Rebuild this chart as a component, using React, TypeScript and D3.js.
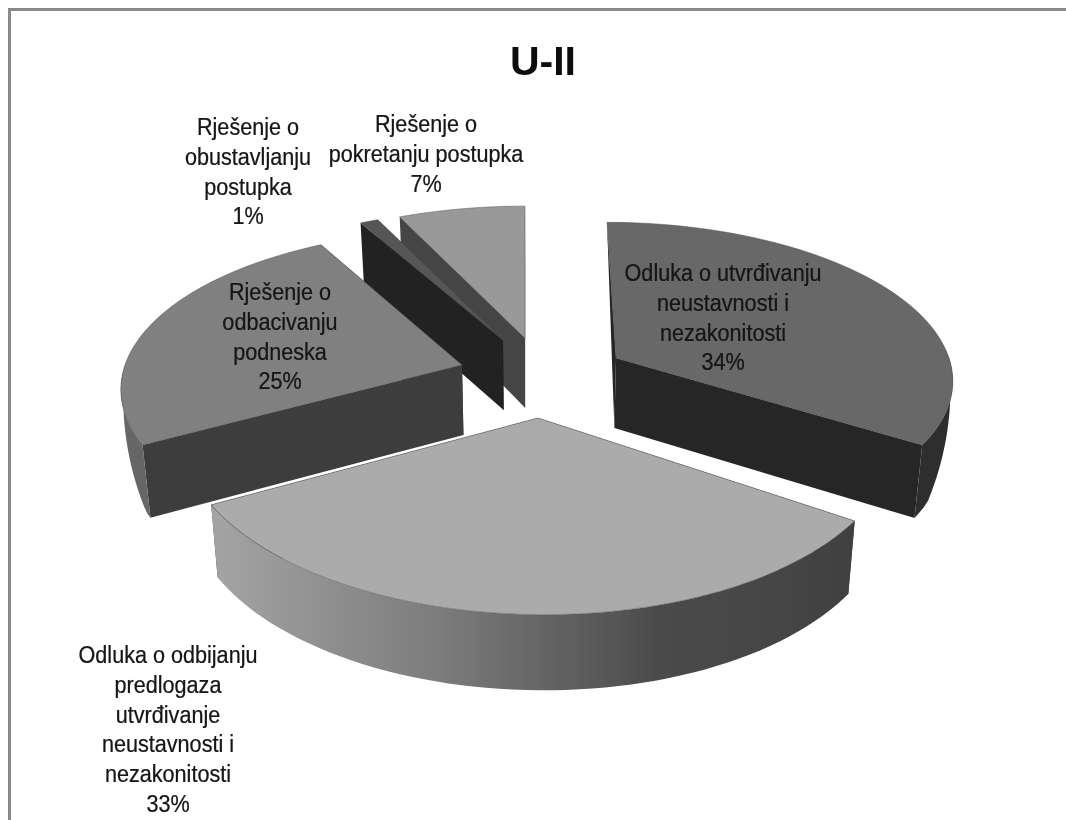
import React from "react";
import * as d3 from "d3";

const title = "U-II";
const categories = [
  ["Odluka o utvrđivanju", "neustavnosti i", "nezakonitosti"],
  ["Odluka o odbijanju", "predlogaza", "utvrđivanje", "neustavnosti i", "nezakonitosti"],
  ["Rješenje o", "odbacivanju", "podneska"],
  ["Rješenje o", "obustavljanju", "postupka"],
  ["Rješenje o", "pokretanju postupka"],
];
const values = [34, 33, 25, 1, 7];
const topColours = ["#676767", "#ababab", "#808080", "#565656", "#999999"];
const cutColours = ["#272727", "#3a3a3a", "#3d3d3d", "#222222", "#454545"];
const rimColours = ["#2e2e2e", "url(#rimFront)", "#666666", "#222222", "#454545"];

// one placement per slice: where its apex lands and how the perspective scales it
const apexX = [616, 538, 462, 503, 525];
const apexY = [358, 418, 365, 340, 338];
const radiusX = [333, 355, 337, 343, 343];
const radiusY = [152, 177, 154.5, 155, 156];
const perspective = [0.12, 0.1, 0.144, 0.183, 0.183];
const shear = [84, 0, -28, 0, 0];
const tilt = [0, 3, 0, 0, 0];
const wedgeStart = [true, false, false, false, false];
const labelX = [723, 168, 280, 248, 426];
const labelY = [281, 663, 300, 135, 132];
const paintOrder = [4, 3, 2, 0, 1];

const depth = 70;
const vanishX = 535;
const lineStep = 29.8;

const arcs = d3.pie<number>().sort(null).value((d) => d).startAngle(0).endAngle(2 * Math.PI)(values);

function project(i: number, angle: number, r: number, drop: number): [number, number] {
  const u = Math.sin(angle) * r;
  const v = -Math.cos(angle) * r;
  const w = 1 / (1 - perspective[i] * v);
  const x = apexX[i] + radiusX[i] * u * w + shear[i] * (w - 1);
  const y = apexY[i] + radiusY[i] * v * w + tilt[i] * u * w;
  if (drop === 0) return [x, y];
  return [vanishX + (x - vanishX) * (1 - 0.02 * drop), y + drop * depth * (1 + 0.08 * v)];
}

const line = d3.line();
const closed = (pts: [number, number][]) => line(pts) + "Z";

// the lower edge of the outer wall closes up towards the back of the pie
const rimDrop = (angle: number) => Math.min(1, Math.max(0, -Math.cos(angle) / 0.45));

function rimPoints(i: number, low: boolean): [number, number][] {
  const a = arcs[i];
  const n = 60;
  return d3.range(n + 1).map((k) => {
    const angle = a.startAngle + ((a.endAngle - a.startAngle) * k) / n;
    return project(i, angle, 1, low ? rimDrop(angle) : 0);
  });
}

function Slice({ i }: { i: number }) {
  const a = arcs[i];
  const topRim = rimPoints(i, false);
  const lowRim = rimPoints(i, true);
  const face = (angle: number) =>
    closed([project(i, 0, 0, 0), project(i, angle, 1, 0), project(i, angle, 1, 1), project(i, 0, 0, 1)]);
  const wedge = closed([project(i, a.startAngle, 1, 0), project(i, 0, 0, 1), project(i, 0, 0, 0)]);
  return (
    <g>
      <path d={wedgeStart[i] ? wedge : face(a.startAngle)} fill={cutColours[i]} />
      <path d={face(a.endAngle)} fill={cutColours[i]} />
      <path d={closed([...topRim, ...[...lowRim].reverse()])} fill={rimColours[i]} />
      <path d={closed([project(i, 0, 0, 0), ...topRim])} fill={topColours[i]} stroke="#555" strokeWidth={0.5} />
    </g>
  );
}

function Label({ i }: { i: number }) {
  const lines = [...categories[i], `${values[i]}%`];
  return (
    <g>
      {lines.map((t, k) => (
        <text
          key={k}
          transform={`translate(${labelX[i]},${labelY[i] + k * lineStep}) scale(0.9,1)`}
          textAnchor="middle"
          fontFamily="'Liberation Sans', Arial, sans-serif"
          fontSize={24}
          fill="#141414"
          stroke="#141414"
          strokeWidth={0.25}
        >
          {t}
        </text>
      ))}
    </g>
  );
}

export default function App() {
  const lowFront = rimPoints(1, true);
  const x0 = d3.min(lowFront, (p) => p[0]) as number;
  const x1 = d3.max(lowFront, (p) => p[0]) as number;
  return (
    <svg
      width={1066}
      height={820}
      viewBox="0 0 1066 820"
      style={{ position: "absolute", left: 0, top: 0, display: "block", background: "#fff" }}
    >
      <defs>
        <linearGradient id="rimFront" gradientUnits="userSpaceOnUse" x1={x0} x2={x1} y1={0} y2={0}>
          <stop offset="0" stopColor="#a3a3a3" />
          <stop offset="0.35" stopColor="#7c7c7c" />
          <stop offset="0.7" stopColor="#4b4b4b" />
          <stop offset="1" stopColor="#414141" />
        </linearGradient>
        <filter id="soft" x="-5%" y="-5%" width="110%" height="110%">
          <feGaussianBlur stdDeviation="0.45" />
        </filter>
      </defs>
      <g filter="url(#soft)">
        <path d={line([[1066, 9.5], [9.5, 9.5], [9.5, 820]]) as string} fill="none" stroke="#8a8a8a" strokeWidth={3} />
        {paintOrder.map((i) => (
          <Slice key={i} i={i} />
        ))}
        {values.map((_, i) => (
          <Label key={i} i={i} />
        ))}
        <text
          x={543}
          y={75}
          textAnchor="middle"
          fontFamily="'Liberation Sans', Arial, sans-serif"
          fontWeight="bold"
          fontSize={41}
          fill="#111"
        >
          {title}
        </text>
      </g>
    </svg>
  );
}
